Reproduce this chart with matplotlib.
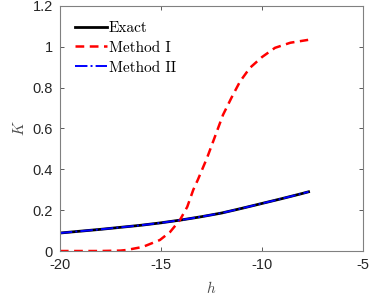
import matplotlib
matplotlib.use('Agg')
import matplotlib.pyplot as plt

# 数据
h_exact = [-20, -19, -18, -17, -16, -15, -14, -13, -12, -11, -10, -9, -8, -7.7]
K_exact = [0.088, 0.097, 0.106, 0.116, 0.126, 0.138, 0.152, 0.168, 0.186, 0.209, 0.233, 0.257, 0.282, 0.290]

h_m1 = [-20, -18, -17, -16.7, -15.9, -15.05, -14.55, -14.06, -13.7, -13.4, -13.17,
        -12.72, -12.33, -11.93, -11.49, -11.09, -10.6, -10.0, -9.36, -8.6, -7.72]
K_m1 = [0.0, 0.0, 0.002, 0.005, 0.02, 0.054, 0.093, 0.152, 0.216, 0.30, 0.35,
        0.456, 0.56, 0.667, 0.755, 0.83, 0.897, 0.95, 0.995, 1.02, 1.034]

h_m2 = h_exact
K_m2 = K_exact

xticks = [-20, -15, -10, -5]
yticks = [0, 0.2, 0.4, 0.6, 0.8, 1.0, 1.2]
ytick_labels = ['0', '0.2', '0.4', '0.6', '0.8', '1', '1.2']

plt.rcParams['axes.unicode_minus'] = False
plt.rcParams['mathtext.fontset'] = 'cm'
plt.rcParams['font.family'] = ['Liberation Sans', 'DejaVu Sans']

fig = plt.figure(figsize=(3.74, 2.99), dpi=100)
ax = fig.add_axes([0.160, 0.1605, 0.811, 0.8195])

ax.plot(h_exact, K_exact, color='black', lw=2.0, label='Exact')
ax.plot(h_m1, K_m1, color='red', lw=1.8, ls=(0, (3.5, 2.2)), label='Method I')
ax.plot(h_m2, K_m2, color='blue', lw=1.4, ls='-.', label='Method II')

ax.set_xlim(-20, -5)
ax.set_ylim(0, 1.2)
ax.set_xticks(xticks)
ax.set_yticks(yticks)
ax.set_yticklabels(ytick_labels)
ax.tick_params(direction='in', top=True, right=True, labelsize=10.5, length=3,
               width=0.6, colors='0.25', labelcolor='0.15', pad=5)
for s in ax.spines.values():
    s.set_color('0.5')
    s.set_linewidth(0.8)

ax.set_xlabel('$h$', fontsize=11, color='0.3', labelpad=6)
ax.set_ylabel('$K$', fontsize=11, color='0.3', labelpad=4)

leg = ax.legend(loc='upper left', frameon=False, prop={'family': 'cmr10', 'size': 11},
                handlelength=2.1, handletextpad=0.1, labelspacing=0.4,
                borderaxespad=0.7, borderpad=0.3)

fig.savefig('out.png', dpi=100)
